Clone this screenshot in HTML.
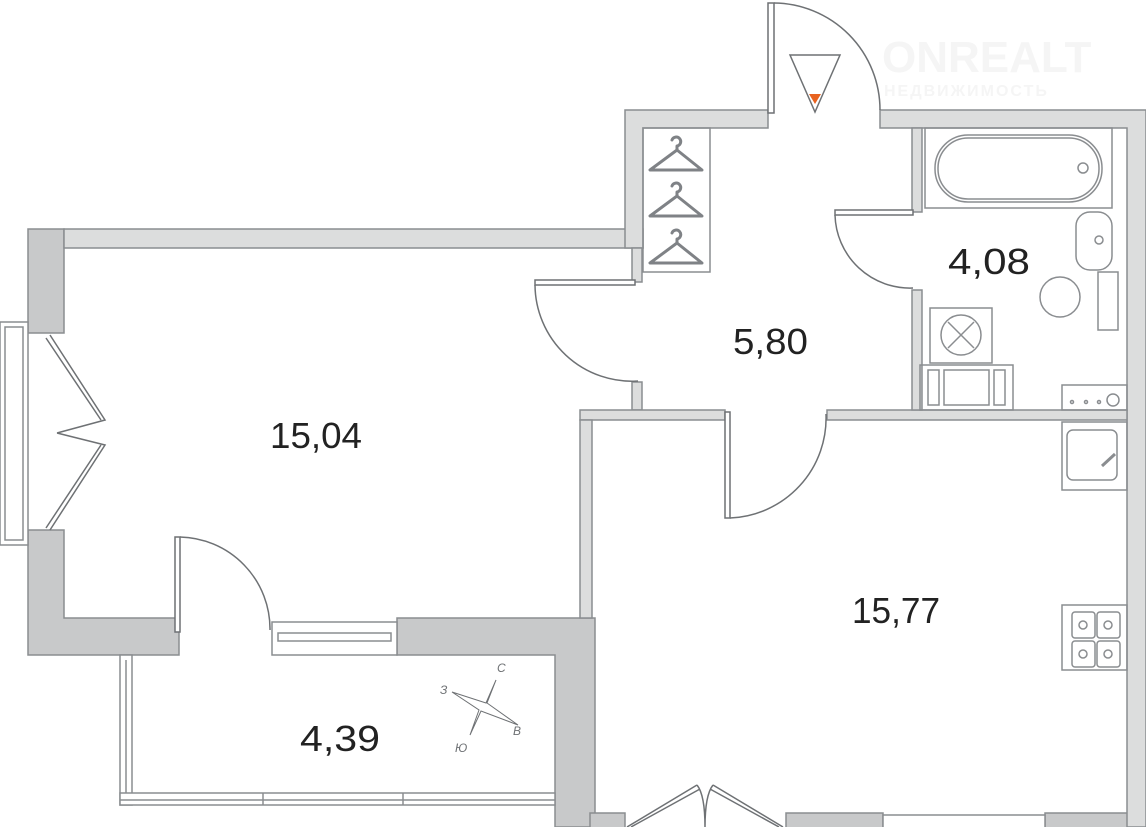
<!DOCTYPE html>
<html><head><meta charset="utf-8"><style>
html,body{margin:0;padding:0;background:#fff;}
svg{display:block;}
text{font-family:"Liberation Sans",sans-serif;}
</style></head><body>
<svg width="1146" height="827" viewBox="0 0 1146 827" xmlns="http://www.w3.org/2000/svg">
<g stroke="#8a8d90" stroke-width="1.5">
<g fill="#c8c9ca">
<rect x="28" y="229" width="36" height="104"/>
<path d="M28 530 H64 V618 H179 V655 H28 Z"/>
<path d="M397 618 H595 V827 H555 V655 H397 Z"/>
<rect x="590" y="813" width="35" height="16"/>
<rect x="786" y="813" width="97" height="16"/>
<rect x="1045" y="813" width="103" height="16"/>
</g>
<g fill="#dcdddd">
<rect x="64" y="229" width="579" height="19"/>
<path d="M625 110 H768 V128 H643 V248 H625 Z"/>
<path d="M880 110 H1146 V827 H1127 V128 H880 Z"/>
<rect x="632" y="248" width="10" height="34"/>
<rect x="632" y="382" width="10" height="28"/>
<rect x="580" y="410" width="145" height="10"/>
<rect x="580" y="420" width="12" height="198"/>
<rect x="827" y="410" width="300" height="10"/>
<rect x="912" y="128" width="10" height="84"/>
<rect x="912" y="290" width="10" height="120"/>
</g>
<g fill="#fff">
<rect x="0" y="322" width="28" height="223"/>
<rect x="5" y="327" width="18" height="213"/>
<rect x="272" y="622" width="125" height="33"/>
<rect x="278" y="633" width="113" height="8"/>
<rect x="120" y="655" width="12" height="150"/>
<rect x="120" y="793" width="435" height="12"/>
<rect x="883" y="815" width="162" height="14"/>
</g>
<line x1="120" y1="800" x2="555" y2="800"/>
<line x1="126" y1="660" x2="126" y2="793"/>
<line x1="263" y1="793" x2="263" y2="805"/><line x1="403" y1="793" x2="403" y2="805"/>
</g>
<g fill="none" stroke="#6e7174" stroke-width="1.5">
<path d="M50 335 L105 420 L57 433 M50 530 L105 445 L57 433"/>
<path d="M46 338 L101 420 M46 528 L101 445"/>
<rect x="175" y="537" width="5" height="95" fill="#fff"/>
<path d="M180 537 A92 92 0 0 1 270 630"/>
<rect x="535" y="280" width="100" height="5" fill="#fff"/>
<path d="M535 285 A97 97 0 0 0 638 381"/>
<rect x="768" y="3" width="6" height="110" fill="#fff"/>
<path d="M774 3 A107 107 0 0 1 880 110"/>
<rect x="835" y="210" width="78" height="5" fill="#fff"/>
<path d="M835 215 A75 75 0 0 0 913 288"/>
<rect x="725" y="412" width="5" height="106" fill="#fff"/>
<path d="M730 518 A100 100 0 0 0 826 414"/>
<path d="M627 827 L697 785 M631 827 L700 789 M783 827 L713 785 M779 827 L710 789"/>
<path d="M697 785 Q705 795 705 827 Q705 795 713 785"/>
</g>
<g fill="none" stroke="#8a8d90" stroke-width="1.5">
<rect x="643" y="128" width="67" height="144"/>
</g>
<g fill="none" stroke="#7f8286" stroke-width="3" stroke-linecap="round" stroke-linejoin="round">
<path d="M672 140 a4.5 4.5 0 1 1 5 6 v4 L650 170 h52 L677 150"/>
<path d="M672 186 a4.5 4.5 0 1 1 5 6 v4 L650 216 h52 L677 196"/>
<path d="M672 233 a4.5 4.5 0 1 1 5 6 v4 L650 263 h52 L677 243"/>
</g>
<g fill="none" stroke="#8a8d90" stroke-width="1.5">
<rect x="925" y="128" width="187" height="80"/>
<rect x="935" y="135" width="167" height="67" rx="33"/>
<rect x="938" y="138" width="161" height="61" rx="30"/>
<circle cx="1083" cy="168" r="5"/>
<rect x="1076" y="212" width="36" height="58" rx="14"/>
<circle cx="1099" cy="240" r="4"/>
<circle cx="1060" cy="297" r="20"/>
<rect x="1098" y="272" width="20" height="58"/>
<rect x="930" y="308" width="62" height="55"/>
<circle cx="961" cy="335" r="20"/>
<path d="M948 322 L974 348 M974 322 L948 348"/>
<rect x="920" y="365" width="93" height="45"/>
<rect x="928" y="370" width="11" height="35"/><rect x="944" y="370" width="45" height="35"/><rect x="994" y="370" width="11" height="35"/>
<rect x="1062" y="385" width="65" height="25"/>
<circle cx="1072" cy="402" r="1.5"/><circle cx="1086" cy="402" r="1.5"/><circle cx="1099" cy="402" r="1.5"/><circle cx="1113" cy="400" r="6"/>
<rect x="1062" y="422" width="65" height="68"/>
<rect x="1067" y="430" width="50" height="50" rx="6"/>
<path d="M1102 466 L1115 454" stroke-width="3"/>
<rect x="1062" y="605" width="65" height="65"/>
<rect x="1072" y="612" width="23" height="26" rx="3"/><rect x="1097" y="612" width="23" height="26" rx="3"/>
<rect x="1072" y="641" width="23" height="26" rx="3"/><rect x="1097" y="641" width="23" height="26" rx="3"/>
<circle cx="1083" cy="625" r="4"/><circle cx="1108" cy="625" r="4"/><circle cx="1083" cy="654" r="4"/><circle cx="1108" cy="654" r="4"/>
</g>
<path d="M790 55 L840 55 L815 112 Z" fill="#fff" stroke="#6e7174" stroke-width="1.5"/>
<path d="M809 94 L821 94 L815 104 Z" fill="#e8621f"/>
<text x="882" y="72" font-size="44" font-weight="bold" fill="#f5f5f5">ONREALT</text>
<text x="884" y="96" font-size="16" font-weight="bold" fill="#f5f5f5" letter-spacing="2">НЕДВИЖИМОСТЬ</text>
<g fill="none" stroke="#6e7174" stroke-width="1">
<path d="M496 680 L487 703 L518 725 L481 711 L470 735 L479 710 L452 692 L486 703 Z"/>
</g>
<g font-size="12" fill="#6e7174" font-style="italic">
<text x="497" y="672">С</text><text x="440" y="694">З</text><text x="513" y="735">В</text><text x="455" y="752">Ю</text>
</g>
<g font-size="36" fill="#222" lengthAdjust="spacingAndGlyphs">
<text x="270" y="448" textLength="92" lengthAdjust="spacingAndGlyphs">15,04</text>
<text x="733" y="354" textLength="75" lengthAdjust="spacingAndGlyphs">5,80</text>
<text x="948" y="274" textLength="82" lengthAdjust="spacingAndGlyphs">4,08</text>
<text x="852" y="623" textLength="88" lengthAdjust="spacingAndGlyphs">15,77</text>
<text x="300" y="751" textLength="80" lengthAdjust="spacingAndGlyphs">4,39</text>
</g>
</svg>
</body></html>
